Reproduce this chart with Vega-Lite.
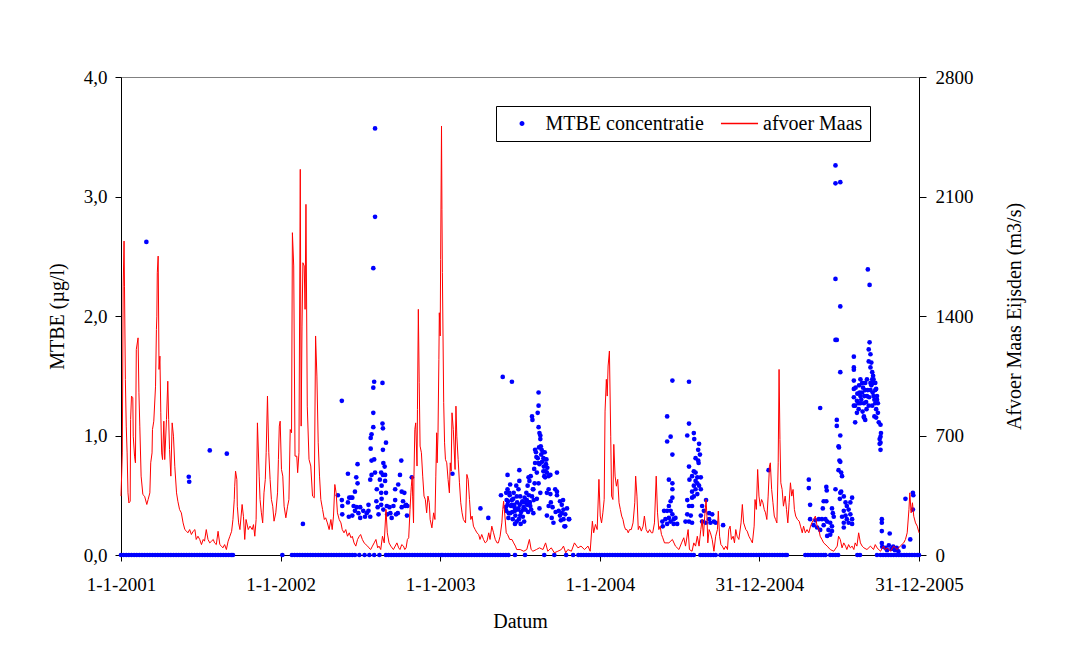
{
"$schema": "https://vega.github.io/schema/vega-lite/v6.json",
"width": 798,
"height": 478,
"autosize": {"type": "none"},
"padding": {"left": 121, "top": 77, "right": 153, "bottom": 111},
"background": "white",
"config": {
  "font": "Liberation Serif",
  "view": {"stroke": "#808080", "strokeWidth": 1},
  "axis": {"domainColor": "black", "tickColor": "black", "labelColor": "black", "titleColor": "black", "labelFont": "Liberation Serif", "titleFont": "Liberation Serif", "labelFontSize": 19, "titleFontSize": 20, "titleFontWeight": "normal", "grid": false, "tickSize": 6, "domainWidth": 1, "tickWidth": 1}
},
"datasets": {
"afvoer": [
{"dag":0,"afvoer":345},{"dag":3,"afvoer":598},{"dag":5,"afvoer":1575},{"dag":7,"afvoer":1839},{"dag":8,"afvoer":1575},{"dag":10,"afvoer":1028},{"dag":12,"afvoer":755},{"dag":14,"afvoer":598},{"dag":16,"afvoer":364},{"dag":18,"afvoer":305},{"dag":21,"afvoer":315},{"dag":22,"afvoer":794},{"dag":24,"afvoer":931},{"dag":27,"afvoer":921},{"dag":28,"afvoer":696},{"dag":31,"afvoer":579},{"dag":33,"afvoer":540},{"dag":35,"afvoer":1204},{"dag":39,"afvoer":1272},{"dag":41,"afvoer":950},{"dag":43,"afvoer":755},{"dag":46,"afvoer":462},{"dag":50,"afvoer":354},{"dag":54,"afvoer":344},{"dag":59,"afvoer":296},{"dag":62,"afvoer":325},{"dag":66,"afvoer":364},{"dag":68,"afvoer":540},{"dag":71,"afvoer":598},{"dag":72,"afvoer":735},{"dag":75,"afvoer":784},{"dag":79,"afvoer":989},{"dag":81,"afvoer":1321},{"dag":82,"afvoer":1399},{"dag":83,"afvoer":1653},{"dag":85,"afvoer":1751},{"dag":87,"afvoer":1087},{"dag":89,"afvoer":1165},{"dag":91,"afvoer":833},{"dag":93,"afvoer":598},{"dag":95,"afvoer":559},{"dag":98,"afvoer":784},{"dag":100,"afvoer":559},{"dag":104,"afvoer":794},{"dag":107,"afvoer":1018},{"dag":109,"afvoer":794},{"dag":111,"afvoer":618},{"dag":114,"afvoer":462},{"dag":117,"afvoer":774},{"dag":120,"afvoer":696},{"dag":123,"afvoer":520},{"dag":127,"afvoer":364},{"dag":130,"afvoer":315},{"dag":134,"afvoer":266},{"dag":138,"afvoer":247},{"dag":142,"afvoer":188},{"dag":146,"afvoer":149},{"dag":150,"afvoer":139},{"dag":153,"afvoer":130},{"dag":157,"afvoer":149},{"dag":161,"afvoer":120},{"dag":165,"afvoer":139},{"dag":169,"afvoer":149},{"dag":172,"afvoer":91},{"dag":176,"afvoer":110},{"dag":180,"afvoer":91},{"dag":184,"afvoer":61},{"dag":188,"afvoer":91},{"dag":191,"afvoer":81},{"dag":195,"afvoer":149},{"dag":199,"afvoer":91},{"dag":203,"afvoer":71},{"dag":207,"afvoer":81},{"dag":211,"afvoer":91},{"dag":214,"afvoer":71},{"dag":218,"afvoer":61},{"dag":222,"afvoer":139},{"dag":226,"afvoer":61},{"dag":230,"afvoer":51},{"dag":233,"afvoer":42},{"dag":237,"afvoer":61},{"dag":241,"afvoer":32},{"dag":245,"afvoer":81},{"dag":249,"afvoer":110},{"dag":253,"afvoer":139},{"dag":256,"afvoer":208},{"dag":259,"afvoer":325},{"dag":260,"afvoer":403},{"dag":262,"afvoer":491},{"dag":265,"afvoer":442},{"dag":266,"afvoer":286},{"dag":269,"afvoer":188},{"dag":272,"afvoer":149},{"dag":277,"afvoer":296},{"dag":280,"afvoer":227},{"dag":283,"afvoer":91},{"dag":286,"afvoer":208},{"dag":291,"afvoer":149},{"dag":295,"afvoer":169},{"dag":300,"afvoer":149},{"dag":303,"afvoer":178},{"dag":306,"afvoer":110},{"dag":309,"afvoer":208},{"dag":312,"afvoer":774},
{"dag":316,"afvoer":462},{"dag":318,"afvoer":325},{"dag":321,"afvoer":247},{"dag":324,"afvoer":188},{"dag":327,"afvoer":364},{"dag":330,"afvoer":442},{"dag":332,"afvoer":599},{"dag":335,"afvoer":931},{"dag":338,"afvoer":599},{"dag":341,"afvoer":442},{"dag":344,"afvoer":325},{"dag":347,"afvoer":286},{"dag":350,"afvoer":198},{"dag":354,"afvoer":247},{"dag":358,"afvoer":364},{"dag":360,"afvoer":560},{"dag":362,"afvoer":755},{"dag":364,"afvoer":784},{"dag":367,"afvoer":501},{"dag":370,"afvoer":462},{"dag":373,"afvoer":286},{"dag":377,"afvoer":218},{"dag":381,"afvoer":286},{"dag":384,"afvoer":325},{"dag":387,"afvoer":735},{"dag":390,"afvoer":716},{"dag":392,"afvoer":1888},{"dag":395,"afvoer":1693},{"dag":398,"afvoer":579},{"dag":402,"afvoer":579},{"dag":404,"afvoer":482},{"dag":407,"afvoer":599},{"dag":410,"afvoer":2259},{"dag":412,"afvoer":755},{"dag":414,"afvoer":1341},{"dag":416,"afvoer":1712},{"dag":419,"afvoer":1693},{"dag":421,"afvoer":1439},{"dag":423,"afvoer":2054},{"dag":426,"afvoer":872},{"dag":430,"afvoer":560},{"dag":434,"afvoer":521},{"dag":438,"afvoer":345},{"dag":442,"afvoer":335},{"dag":445,"afvoer":1283},{"dag":448,"afvoer":1048},{"dag":451,"afvoer":657},{"dag":454,"afvoer":462},{"dag":457,"afvoer":325},{"dag":461,"afvoer":267},{"dag":465,"afvoer":208},{"dag":468,"afvoer":218},{"dag":472,"afvoer":188},{"dag":476,"afvoer":149},{"dag":480,"afvoer":208},{"dag":483,"afvoer":149},{"dag":486,"afvoer":228},{"dag":489,"afvoer":413},{"dag":492,"afvoer":364},{"dag":495,"afvoer":247},{"dag":499,"afvoer":208},{"dag":503,"afvoer":188},{"dag":506,"afvoer":149},{"dag":510,"afvoer":130},{"dag":514,"afvoer":149},{"dag":518,"afvoer":110},{"dag":522,"afvoer":130},{"dag":526,"afvoer":101},{"dag":529,"afvoer":110},{"dag":533,"afvoer":71},{"dag":537,"afvoer":52},{"dag":541,"afvoer":91},{"dag":545,"afvoer":110},{"dag":548,"afvoer":120},{"dag":552,"afvoer":91},{"dag":556,"afvoer":71},{"dag":560,"afvoer":61},{"dag":564,"afvoer":52},{"dag":567,"afvoer":42},{"dag":571,"afvoer":32},{"dag":575,"afvoer":52},{"dag":579,"afvoer":71},{"dag":583,"afvoer":91},{"dag":587,"afvoer":42},{"dag":590,"afvoer":52},{"dag":594,"afvoer":32},{"dag":598,"afvoer":110},{"dag":602,"afvoer":71},{"dag":606,"afvoer":267},{"dag":609,"afvoer":130},{"dag":613,"afvoer":71},{"dag":617,"afvoer":52},
{"dag":623,"afvoer":32},{"dag":631,"afvoer":71},{"dag":635,"afvoer":42},{"dag":638,"afvoer":32},{"dag":642,"afvoer":61},{"dag":646,"afvoer":52},{"dag":649,"afvoer":32},{"dag":652,"afvoer":42},{"dag":655,"afvoer":91},{"dag":658,"afvoer":101},{"dag":661,"afvoer":266},{"dag":663,"afvoer":364},{"dag":664,"afvoer":403},{"dag":666,"afvoer":462},{"dag":667,"afvoer":345},{"dag":669,"afvoer":188},{"dag":670,"afvoer":462},{"dag":672,"afvoer":735},{"dag":674,"afvoer":774},{"dag":677,"afvoer":521},{"dag":678,"afvoer":853},{"dag":680,"afvoer":1439},{"dag":682,"afvoer":1009},{"dag":684,"afvoer":638},{"dag":687,"afvoer":599},{"dag":690,"afvoer":462},{"dag":693,"afvoer":345},{"dag":696,"afvoer":325},{"dag":699,"afvoer":247},{"dag":702,"afvoer":345},{"dag":705,"afvoer":306},{"dag":707,"afvoer":208},{"dag":711,"afvoer":159},{"dag":715,"afvoer":247},{"dag":718,"afvoer":208},{"dag":720,"afvoer":462},{"dag":722,"afvoer":716},{"dag":723,"afvoer":540},{"dag":725,"afvoer":716},{"dag":727,"afvoer":1146},{"dag":728,"afvoer":1419},{"dag":730,"afvoer":1283},{"dag":731,"afvoer":1732},{"dag":733,"afvoer":2513},{"dag":734,"afvoer":2025},{"dag":735,"afvoer":1654},{"dag":738,"afvoer":892},{"dag":740,"afvoer":657},{"dag":742,"afvoer":560},{"dag":745,"afvoer":540},{"dag":748,"afvoer":442},{"dag":751,"afvoer":364},{"dag":753,"afvoer":540},{"dag":755,"afvoer":491},{"dag":757,"afvoer":833},{"dag":760,"afvoer":735},{"dag":764,"afvoer":501},{"dag":766,"afvoer":872},{"dag":768,"afvoer":696},{"dag":771,"afvoer":560},{"dag":774,"afvoer":423},{"dag":777,"afvoer":306},{"dag":780,"afvoer":247},{"dag":783,"afvoer":208},{"dag":788,"afvoer":188},{"dag":791,"afvoer":472},{"dag":794,"afvoer":442},{"dag":797,"afvoer":325},{"dag":800,"afvoer":208},{"dag":803,"afvoer":228},{"dag":806,"afvoer":169},{"dag":810,"afvoer":149},{"dag":814,"afvoer":130},{"dag":818,"afvoer":120},{"dag":821,"afvoer":91},{"dag":825,"afvoer":120},{"dag":829,"afvoer":91},{"dag":833,"afvoer":71},{"dag":837,"afvoer":81},{"dag":841,"afvoer":130},{"dag":844,"afvoer":91},{"dag":848,"afvoer":169},{"dag":852,"afvoer":130},{"dag":856,"afvoer":91},{"dag":860,"afvoer":71},{"dag":863,"afvoer":71},{"dag":867,"afvoer":110},{"dag":871,"afvoer":188},{"dag":873,"afvoer":266},{"dag":875,"afvoer":315},{"dag":878,"afvoer":228},{"dag":881,"afvoer":130},{"dag":884,"afvoer":120},{"dag":889,"afvoer":91},{"dag":894,"afvoer":91},{"dag":898,"afvoer":71},{"dag":902,"afvoer":52},{"dag":905,"afvoer":32},{"dag":913,"afvoer":32},{"dag":921,"afvoer":22},{"dag":928,"afvoer":32},
{"dag":934,"afvoer":91},{"dag":938,"afvoer":32},{"dag":942,"afvoer":22},{"dag":950,"afvoer":32},{"dag":957,"afvoer":42},{"dag":965,"afvoer":32},{"dag":971,"afvoer":71},{"dag":976,"afvoer":22},{"dag":984,"afvoer":42},{"dag":991,"afvoer":13},{"dag":999,"afvoer":22},{"dag":1007,"afvoer":32},{"dag":1012,"afvoer":52},{"dag":1017,"afvoer":13},{"dag":1022,"afvoer":32},{"dag":1030,"afvoer":22},{"dag":1037,"afvoer":71},{"dag":1045,"afvoer":42},{"dag":1052,"afvoer":52},{"dag":1060,"afvoer":32},{"dag":1068,"afvoer":52},{"dag":1073,"afvoer":22},{"dag":1078,"afvoer":198},{"dag":1081,"afvoer":130},{"dag":1085,"afvoer":179},{"dag":1089,"afvoer":149},{"dag":1093,"afvoer":443},{"dag":1096,"afvoer":228},{"dag":1099,"afvoer":188},{"dag":1102,"afvoer":247},{"dag":1105,"afvoer":325},{"dag":1107,"afvoer":843},{"dag":1110,"afvoer":1029},{"dag":1112,"afvoer":931},{"dag":1114,"afvoer":1107},{"dag":1117,"afvoer":1195},{"dag":1120,"afvoer":696},{"dag":1122,"afvoer":345},{"dag":1125,"afvoer":325},{"dag":1127,"afvoer":648},{"dag":1130,"afvoer":462},{"dag":1133,"afvoer":403},{"dag":1136,"afvoer":443},{"dag":1139,"afvoer":306},{"dag":1142,"afvoer":267},{"dag":1145,"afvoer":228},{"dag":1148,"afvoer":208},{"dag":1151,"afvoer":169},{"dag":1154,"afvoer":149},{"dag":1157,"afvoer":149},{"dag":1160,"afvoer":130},{"dag":1163,"afvoer":149},{"dag":1167,"afvoer":149},{"dag":1171,"afvoer":188},{"dag":1175,"afvoer":306},{"dag":1177,"afvoer":462},{"dag":1180,"afvoer":345},{"dag":1183,"afvoer":149},{"dag":1186,"afvoer":169},{"dag":1190,"afvoer":140},{"dag":1194,"afvoer":169},{"dag":1197,"afvoer":228},{"dag":1201,"afvoer":149},{"dag":1205,"afvoer":130},{"dag":1209,"afvoer":149},{"dag":1213,"afvoer":130},{"dag":1216,"afvoer":130},{"dag":1220,"afvoer":188},{"dag":1224,"afvoer":462},{"dag":1227,"afvoer":247},{"dag":1230,"afvoer":149},{"dag":1233,"afvoer":169},{"dag":1236,"afvoer":120},{"dag":1239,"afvoer":101},{"dag":1243,"afvoer":71},
{"dag":1253,"afvoer":71},{"dag":1261,"afvoer":91},{"dag":1268,"afvoer":52},{"dag":1276,"afvoer":32},{"dag":1282,"afvoer":71},{"dag":1287,"afvoer":101},{"dag":1291,"afvoer":52},{"dag":1297,"afvoer":149},{"dag":1300,"afvoer":32},{"dag":1306,"afvoer":22},{"dag":1310,"afvoer":71},{"dag":1314,"afvoer":52},{"dag":1318,"afvoer":110},{"dag":1322,"afvoer":52},{"dag":1326,"afvoer":149},{"dag":1329,"afvoer":208},{"dag":1332,"afvoer":110},{"dag":1335,"afvoer":228},{"dag":1338,"afvoer":325},{"dag":1340,"afvoer":228},{"dag":1342,"afvoer":71},{"dag":1345,"afvoer":149},{"dag":1348,"afvoer":130},{"dag":1352,"afvoer":91},{"dag":1356,"afvoer":22},{"dag":1360,"afvoer":110},{"dag":1364,"afvoer":149},{"dag":1366,"afvoer":257},{"dag":1369,"afvoer":110},{"dag":1372,"afvoer":61},{"dag":1375,"afvoer":52},{"dag":1379,"afvoer":32},{"dag":1383,"afvoer":52},{"dag":1387,"afvoer":32},{"dag":1390,"afvoer":149},{"dag":1393,"afvoer":169},{"dag":1396,"afvoer":91},{"dag":1400,"afvoer":110},{"dag":1403,"afvoer":71},{"dag":1406,"afvoer":149},{"dag":1409,"afvoer":110},{"dag":1413,"afvoer":91},{"dag":1418,"afvoer":188},{"dag":1421,"afvoer":296},{"dag":1424,"afvoer":188},{"dag":1429,"afvoer":149},{"dag":1432,"afvoer":140},{"dag":1436,"afvoer":110},{"dag":1440,"afvoer":91},{"dag":1444,"afvoer":71},{"dag":1448,"afvoer":169},{"dag":1450,"afvoer":325},{"dag":1453,"afvoer":267},{"dag":1456,"afvoer":501},{"dag":1459,"afvoer":345},{"dag":1462,"afvoer":286},{"dag":1465,"afvoer":325},{"dag":1468,"afvoer":306},{"dag":1471,"afvoer":267},{"dag":1474,"afvoer":247},{"dag":1477,"afvoer":208},{"dag":1480,"afvoer":345},{"dag":1483,"afvoer":521},{"dag":1485,"afvoer":540},{"dag":1488,"afvoer":384},{"dag":1491,"afvoer":306},{"dag":1494,"afvoer":228},{"dag":1497,"afvoer":208},{"dag":1500,"afvoer":188},{"dag":1503,"afvoer":540},{"dag":1505,"afvoer":1087},{"dag":1507,"afvoer":677},{"dag":1509,"afvoer":423},{"dag":1512,"afvoer":384},{"dag":1515,"afvoer":286},{"dag":1519,"afvoer":345},{"dag":1522,"afvoer":267},{"dag":1525,"afvoer":188},{"dag":1528,"afvoer":306},{"dag":1531,"afvoer":423},{"dag":1534,"afvoer":345},{"dag":1537,"afvoer":384},{"dag":1540,"afvoer":267},{"dag":1543,"afvoer":228},{"dag":1547,"afvoer":208},{"dag":1551,"afvoer":198},{"dag":1554,"afvoer":169},{"dag":1558,"afvoer":130},
{"dag":1561,"afvoer":169},{"dag":1565,"afvoer":130},{"dag":1569,"afvoer":149},{"dag":1573,"afvoer":130},{"dag":1577,"afvoer":169},{"dag":1580,"afvoer":188},{"dag":1584,"afvoer":208},{"dag":1588,"afvoer":228},{"dag":1592,"afvoer":169},{"dag":1596,"afvoer":149},{"dag":1599,"afvoer":110},{"dag":1603,"afvoer":91},{"dag":1607,"afvoer":71},{"dag":1615,"afvoer":52},{"dag":1622,"afvoer":32},{"dag":1630,"afvoer":22},{"dag":1638,"afvoer":52},{"dag":1641,"afvoer":110},{"dag":1645,"afvoer":91},{"dag":1649,"afvoer":42},{"dag":1653,"afvoer":71},{"dag":1657,"afvoer":52},{"dag":1660,"afvoer":32},{"dag":1664,"afvoer":61},{"dag":1668,"afvoer":42},{"dag":1672,"afvoer":52},{"dag":1676,"afvoer":32},{"dag":1679,"afvoer":71},{"dag":1683,"afvoer":52},{"dag":1687,"afvoer":130},{"dag":1691,"afvoer":71},{"dag":1695,"afvoer":52},{"dag":1699,"afvoer":42},{"dag":1706,"afvoer":32},{"dag":1714,"afvoer":52},{"dag":1721,"afvoer":32},{"dag":1725,"afvoer":61},{"dag":1729,"afvoer":42},{"dag":1737,"afvoer":22},{"dag":1744,"afvoer":52},{"dag":1748,"afvoer":32},{"dag":1752,"afvoer":42},{"dag":1760,"afvoer":22},{"dag":1767,"afvoer":52},{"dag":1775,"afvoer":32},{"dag":1782,"afvoer":52},{"dag":1790,"afvoer":71},{"dag":1794,"afvoer":91},{"dag":1798,"afvoer":130},{"dag":1802,"afvoer":267},{"dag":1804,"afvoer":364},{"dag":1807,"afvoer":247},{"dag":1810,"afvoer":306},{"dag":1813,"afvoer":227},{"dag":1817,"afvoer":188},{"dag":1821,"afvoer":169},{"dag":1824,"afvoer":140},{"dag":1825,"afvoer":130}
],
"mtbe": [
{"dag":0,"mtbe":0},{"dag":6,"mtbe":0},{"dag":12,"mtbe":0},{"dag":18,"mtbe":0},{"dag":24,"mtbe":0},{"dag":30,"mtbe":0},{"dag":36,"mtbe":0},{"dag":42,"mtbe":0},{"dag":48,"mtbe":0},{"dag":54,"mtbe":0},{"dag":60,"mtbe":0},{"dag":66,"mtbe":0},{"dag":72,"mtbe":0},{"dag":78,"mtbe":0},{"dag":84,"mtbe":0},{"dag":90,"mtbe":0},{"dag":96,"mtbe":0},{"dag":102,"mtbe":0},{"dag":108,"mtbe":0},{"dag":114,"mtbe":0},{"dag":120,"mtbe":0},{"dag":126,"mtbe":0},{"dag":132,"mtbe":0},{"dag":138,"mtbe":0},{"dag":144,"mtbe":0},{"dag":150,"mtbe":0},{"dag":156,"mtbe":0},{"dag":162,"mtbe":0},{"dag":168,"mtbe":0},{"dag":174,"mtbe":0},{"dag":180,"mtbe":0},{"dag":186,"mtbe":0},{"dag":192,"mtbe":0},{"dag":198,"mtbe":0},{"dag":204,"mtbe":0},{"dag":210,"mtbe":0},{"dag":216,"mtbe":0},{"dag":222,"mtbe":0},{"dag":228,"mtbe":0},{"dag":234,"mtbe":0},{"dag":240,"mtbe":0},{"dag":246,"mtbe":0},{"dag":252,"mtbe":0},{"dag":256,"mtbe":0},
{"dag":369,"mtbe":0},
{"dag":391,"mtbe":0},{"dag":397,"mtbe":0},{"dag":403,"mtbe":0},{"dag":409,"mtbe":0},{"dag":415,"mtbe":0},{"dag":421,"mtbe":0},{"dag":427,"mtbe":0},{"dag":433,"mtbe":0},{"dag":439,"mtbe":0},{"dag":445,"mtbe":0},{"dag":451,"mtbe":0},{"dag":457,"mtbe":0},{"dag":463,"mtbe":0},{"dag":469,"mtbe":0},{"dag":475,"mtbe":0},{"dag":481,"mtbe":0},{"dag":487,"mtbe":0},{"dag":493,"mtbe":0},{"dag":499,"mtbe":0},{"dag":505,"mtbe":0},{"dag":511,"mtbe":0},{"dag":517,"mtbe":0},{"dag":523,"mtbe":0},{"dag":529,"mtbe":0},{"dag":535,"mtbe":0},
{"dag":545,"mtbe":0},{"dag":557,"mtbe":0},{"dag":568,"mtbe":0},{"dag":579,"mtbe":0},{"dag":591,"mtbe":0},
{"dag":606,"mtbe":0},{"dag":612,"mtbe":0},{"dag":618,"mtbe":0},{"dag":624,"mtbe":0},{"dag":630,"mtbe":0},{"dag":636,"mtbe":0},{"dag":642,"mtbe":0},{"dag":648,"mtbe":0},{"dag":654,"mtbe":0},{"dag":660,"mtbe":0},{"dag":666,"mtbe":0},{"dag":672,"mtbe":0},{"dag":678,"mtbe":0},{"dag":684,"mtbe":0},{"dag":690,"mtbe":0},{"dag":696,"mtbe":0},{"dag":702,"mtbe":0},{"dag":708,"mtbe":0},{"dag":714,"mtbe":0},{"dag":720,"mtbe":0},{"dag":726,"mtbe":0},{"dag":732,"mtbe":0},
{"dag":736,"mtbe":0},{"dag":742,"mtbe":0},{"dag":748,"mtbe":0},{"dag":754,"mtbe":0},{"dag":760,"mtbe":0},{"dag":766,"mtbe":0},{"dag":772,"mtbe":0},{"dag":778,"mtbe":0},{"dag":784,"mtbe":0},{"dag":790,"mtbe":0},{"dag":796,"mtbe":0},{"dag":802,"mtbe":0},{"dag":808,"mtbe":0},{"dag":814,"mtbe":0},{"dag":820,"mtbe":0},{"dag":826,"mtbe":0},{"dag":832,"mtbe":0},{"dag":838,"mtbe":0},{"dag":844,"mtbe":0},{"dag":850,"mtbe":0},{"dag":856,"mtbe":0},{"dag":862,"mtbe":0},{"dag":868,"mtbe":0},{"dag":874,"mtbe":0},{"dag":880,"mtbe":0},{"dag":886,"mtbe":0},
{"dag":901,"mtbe":0},{"dag":924,"mtbe":0},{"dag":968,"mtbe":0},{"dag":991,"mtbe":0},{"dag":1018,"mtbe":0},{"dag":1034,"mtbe":0},
{"dag":1046,"mtbe":0},{"dag":1052,"mtbe":0},{"dag":1058,"mtbe":0},{"dag":1064,"mtbe":0},{"dag":1070,"mtbe":0},{"dag":1076,"mtbe":0},{"dag":1082,"mtbe":0},{"dag":1088,"mtbe":0},{"dag":1094,"mtbe":0},{"dag":1100,"mtbe":0},{"dag":1106,"mtbe":0},{"dag":1112,"mtbe":0},{"dag":1118,"mtbe":0},{"dag":1124,"mtbe":0},{"dag":1130,"mtbe":0},{"dag":1136,"mtbe":0},{"dag":1142,"mtbe":0},{"dag":1148,"mtbe":0},{"dag":1154,"mtbe":0},{"dag":1160,"mtbe":0},{"dag":1166,"mtbe":0},{"dag":1172,"mtbe":0},{"dag":1178,"mtbe":0},{"dag":1184,"mtbe":0},{"dag":1190,"mtbe":0},{"dag":1196,"mtbe":0},{"dag":1202,"mtbe":0},{"dag":1208,"mtbe":0},{"dag":1214,"mtbe":0},{"dag":1220,"mtbe":0},{"dag":1226,"mtbe":0},{"dag":1232,"mtbe":0},{"dag":1238,"mtbe":0},{"dag":1244,"mtbe":0},{"dag":1250,"mtbe":0},{"dag":1256,"mtbe":0},{"dag":1262,"mtbe":0},{"dag":1268,"mtbe":0},{"dag":1274,"mtbe":0},{"dag":1280,"mtbe":0},{"dag":1286,"mtbe":0},{"dag":1292,"mtbe":0},{"dag":1298,"mtbe":0},{"dag":1304,"mtbe":0},{"dag":1310,"mtbe":0},
{"dag":1325,"mtbe":0},{"dag":1331,"mtbe":0},{"dag":1337,"mtbe":0},{"dag":1343,"mtbe":0},{"dag":1349,"mtbe":0},{"dag":1355,"mtbe":0},{"dag":1360,"mtbe":0},
{"dag":1371,"mtbe":0},{"dag":1377,"mtbe":0},{"dag":1383,"mtbe":0},{"dag":1389,"mtbe":0},
{"dag":1393,"mtbe":0},{"dag":1399,"mtbe":0},{"dag":1405,"mtbe":0},{"dag":1411,"mtbe":0},{"dag":1417,"mtbe":0},{"dag":1423,"mtbe":0},{"dag":1429,"mtbe":0},{"dag":1435,"mtbe":0},{"dag":1441,"mtbe":0},{"dag":1447,"mtbe":0},{"dag":1453,"mtbe":0},{"dag":1459,"mtbe":0},{"dag":1465,"mtbe":0},{"dag":1471,"mtbe":0},{"dag":1477,"mtbe":0},{"dag":1483,"mtbe":0},{"dag":1489,"mtbe":0},{"dag":1495,"mtbe":0},{"dag":1501,"mtbe":0},{"dag":1507,"mtbe":0},{"dag":1513,"mtbe":0},{"dag":1519,"mtbe":0},{"dag":1523,"mtbe":0},
{"dag":1565,"mtbe":0},{"dag":1571,"mtbe":0},{"dag":1577,"mtbe":0},{"dag":1583,"mtbe":0},{"dag":1589,"mtbe":0},{"dag":1595,"mtbe":0},{"dag":1601,"mtbe":0},{"dag":1607,"mtbe":0},{"dag":1611,"mtbe":0},
{"dag":1622,"mtbe":0},{"dag":1628,"mtbe":0},{"dag":1634,"mtbe":0},{"dag":1640,"mtbe":0},
{"dag":1684,"mtbe":0},{"dag":1690,"mtbe":0},{"dag":1729,"mtbe":0},
{"dag":1737,"mtbe":0},{"dag":1743,"mtbe":0},{"dag":1749,"mtbe":0},{"dag":1755,"mtbe":0},{"dag":1761,"mtbe":0},{"dag":1767,"mtbe":0},{"dag":1773,"mtbe":0},{"dag":1779,"mtbe":0},{"dag":1785,"mtbe":0},{"dag":1791,"mtbe":0},{"dag":1797,"mtbe":0},{"dag":1803,"mtbe":0},{"dag":1809,"mtbe":0},{"dag":1815,"mtbe":0},{"dag":1821,"mtbe":0},{"dag":1825,"mtbe":0},
{"dag":58,"mtbe":2.62},{"dag":155,"mtbe":0.655},{"dag":156,"mtbe":0.613},{"dag":203,"mtbe":0.875},{"dag":242,"mtbe":0.848},
{"dag":416,"mtbe":0.26},{"dag":496,"mtbe":0.50},{"dag":505,"mtbe":1.29},{"dag":505,"mtbe":0.46},{"dag":506,"mtbe":0.41},{"dag":506,"mtbe":0.34},{"dag":519,"mtbe":0.68},{"dag":519,"mtbe":0.44},{"dag":522,"mtbe":0.48},{"dag":521,"mtbe":0.32},{"dag":526,"mtbe":0.48},{"dag":529,"mtbe":0.48},{"dag":535,"mtbe":0.53},{"dag":538,"mtbe":0.65},{"dag":541,"mtbe":0.76},{"dag":541,"mtbe":0.60},{"dag":532,"mtbe":0.41},{"dag":535,"mtbe":0.37},{"dag":539,"mtbe":0.40},{"dag":529,"mtbe":0.33},{"dag":543,"mtbe":0.35},{"dag":547,"mtbe":0.40},{"dag":547,"mtbe":0.31},{"dag":554,"mtbe":0.37},{"dag":558,"mtbe":0.32},{"dag":562,"mtbe":0.35},{"dag":566,"mtbe":0.42},{"dag":566,"mtbe":0.37},{"dag":570,"mtbe":0.32},{"dag":570,"mtbe":0.63},{"dag":573,"mtbe":0.67},{"dag":573,"mtbe":0.79},{"dag":571,"mtbe":0.89},{"dag":571,"mtbe":0.98},{"dag":573,"mtbe":1.01},{"dag":577,"mtbe":1.07},{"dag":577,"mtbe":1.19},{"dag":577,"mtbe":1.40},{"dag":579,"mtbe":1.45},{"dag":577,"mtbe":2.40},{"dag":581,"mtbe":2.83},{"dag":581,"mtbe":3.57},{"dag":579,"mtbe":0.80},{"dag":581,"mtbe":0.69},{"dag":585,"mtbe":0.55},{"dag":584,"mtbe":0.45},{"dag":587,"mtbe":0.40},{"dag":589,"mtbe":0.34},{"dag":592,"mtbe":0.63},{"dag":595,"mtbe":0.69},{"dag":596,"mtbe":0.58},{"dag":595,"mtbe":0.52},{"dag":596,"mtbe":0.47},{"dag":598,"mtbe":1.44},{"dag":598,"mtbe":1.10},{"dag":599,"mtbe":1.06},{"dag":606,"mtbe":0.94},{"dag":599,"mtbe":0.88},{"dag":600,"mtbe":0.77},{"dag":603,"mtbe":0.74},{"dag":599,"mtbe":0.67},{"dag":604,"mtbe":0.67},{"dag":604,"mtbe":0.62},{"dag":595,"mtbe":0.42},{"dag":600,"mtbe":0.38},{"dag":606,"mtbe":0.52},{"dag":608,"mtbe":0.41},{"dag":609,"mtbe":0.34},{"dag":614,"mtbe":0.40},{"dag":616,"mtbe":0.35},{"dag":619,"mtbe":0.31},{"dag":623,"mtbe":0.41},{"dag":627,"mtbe":0.46},{"dag":627,"mtbe":0.55},{"dag":629,"mtbe":0.34},{"dag":633,"mtbe":0.35},{"dag":634,"mtbe":0.59},{"dag":638,"mtbe":0.67},{"dag":641,"mtbe":0.79},{"dag":642,"mtbe":0.53},{"dag":645,"mtbe":0.45},{"dag":642,"mtbe":0.40},{"dag":648,"mtbe":0.52},{"dag":650,"mtbe":0.41},{"dag":652,"mtbe":0.42},{"dag":654,"mtbe":0.33},{"dag":655,"mtbe":0.41},{"dag":665,"mtbe":0.65},
{"dag":758,"mtbe":0.68},{"dag":822,"mtbe":0.39},{"dag":840,"mtbe":0.31},{"dag":869,"mtbe":0.50},{"dag":873,"mtbe":1.49},{"dag":894,"mtbe":1.45},
{"dag":884,"mtbe":0.67},{"dag":890,"mtbe":0.59},{"dag":884,"mtbe":0.55},{"dag":881,"mtbe":0.52},{"dag":888,"mtbe":0.52},{"dag":882,"mtbe":0.46},{"dag":894,"mtbe":0.46},{"dag":884,"mtbe":0.42},{"dag":892,"mtbe":0.41},{"dag":899,"mtbe":0.42},{"dag":881,"mtbe":0.37},{"dag":890,"mtbe":0.35},{"dag":901,"mtbe":0.37},{"dag":886,"mtbe":0.31},{"dag":896,"mtbe":0.30},{"dag":905,"mtbe":0.28},{"dag":911,"mtbe":0.71},{"dag":911,"mtbe":0.62},{"dag":909,"mtbe":0.55},{"dag":913,"mtbe":0.49},{"dag":905,"mtbe":0.49},{"dag":917,"mtbe":0.44},{"dag":909,"mtbe":0.39},{"dag":920,"mtbe":0.38},{"dag":913,"mtbe":0.33},{"dag":922,"mtbe":0.28},{"dag":914,"mtbe":0.26},{"dag":901,"mtbe":0.26},{"dag":898,"mtbe":0.52},{"dag":904,"mtbe":0.58},{"dag":924,"mtbe":0.44},{"dag":927,"mtbe":0.52},{"dag":930,"mtbe":0.58},{"dag":932,"mtbe":0.65},{"dag":934,"mtbe":0.62},{"dag":937,"mtbe":0.66},{"dag":928,"mtbe":0.46},{"dag":934,"mtbe":0.44},{"dag":940,"mtbe":0.49},{"dag":943,"mtbe":0.55},{"dag":940,"mtbe":1.16},{"dag":941,"mtbe":1.13},{"dag":943,"mtbe":0.35},{"dag":947,"mtbe":0.77},{"dag":945,"mtbe":0.72},{"dag":936,"mtbe":0.41},{"dag":955,"mtbe":1.36},{"dag":955,"mtbe":1.25},{"dag":953,"mtbe":1.19},{"dag":955,"mtbe":1.07},{"dag":957,"mtbe":1.02},{"dag":959,"mtbe":1.00},{"dag":959,"mtbe":0.97},{"dag":960,"mtbe":0.91},{"dag":947,"mtbe":0.88},{"dag":949,"mtbe":0.86},{"dag":953,"mtbe":0.81},{"dag":955,"mtbe":0.77},{"dag":957,"mtbe":0.76},{"dag":951,"mtbe":0.69},{"dag":955,"mtbe":0.60},{"dag":959,"mtbe":0.52},{"dag":951,"mtbe":0.47},{"dag":957,"mtbe":0.39},{"dag":962,"mtbe":0.88},{"dag":966,"mtbe":0.81},{"dag":970,"mtbe":0.80},{"dag":972,"mtbe":0.76},{"dag":966,"mtbe":0.70},{"dag":968,"mtbe":0.66},{"dag":970,"mtbe":0.65},{"dag":974,"mtbe":0.69},{"dag":978,"mtbe":0.66},{"dag":982,"mtbe":0.67},{"dag":965,"mtbe":0.86},{"dag":975,"mtbe":0.73},{"dag":978,"mtbe":0.55},{"dag":974,"mtbe":0.52},{"dag":982,"mtbe":0.51},{"dag":978,"mtbe":0.41},{"dag":974,"mtbe":0.33},{"dag":985,"mtbe":0.31},{"dag":983,"mtbe":0.44},{"dag":997,"mtbe":0.69},{"dag":993,"mtbe":0.55},{"dag":997,"mtbe":0.53},{"dag":997,"mtbe":0.50},{"dag":989,"mtbe":0.27},{"dag":1004,"mtbe":0.45},{"dag":1008,"mtbe":0.42},{"dag":1012,"mtbe":0.38},{"dag":1008,"mtbe":0.35},{"dag":1016,"mtbe":0.34},{"dag":1004,"mtbe":0.33},{"dag":1012,"mtbe":0.30},{"dag":1025,"mtbe":0.30},{"dag":1016,"mtbe":0.24},{"dag":1001,"mtbe":0.37},{"dag":1020,"mtbe":0.39},{"dag":1011,"mtbe":0.46},
{"dag":880,"mtbe":0.40},{"dag":885,"mtbe":0.45},{"dag":887,"mtbe":0.35},{"dag":889,"mtbe":0.50},{"dag":893,"mtbe":0.42},{"dag":895,"mtbe":0.36},{"dag":897,"mtbe":0.47},{"dag":900,"mtbe":0.40},{"dag":902,"mtbe":0.33},{"dag":906,"mtbe":0.44},{"dag":908,"mtbe":0.38},{"dag":910,"mtbe":0.30},{"dag":912,"mtbe":0.42},{"dag":915,"mtbe":0.36},{"dag":918,"mtbe":0.45},{"dag":919,"mtbe":0.32},{"dag":921,"mtbe":0.40},{"dag":923,"mtbe":0.48},{"dag":925,"mtbe":0.38},{"dag":950,"mtbe":0.82},{"dag":956,"mtbe":0.90},{"dag":961,"mtbe":0.84},{"dag":963,"mtbe":0.78},{"dag":967,"mtbe":0.74},{"dag":969,"mtbe":0.86},{"dag":971,"mtbe":0.70},{"dag":973,"mtbe":0.80},{"dag":929,"mtbe":0.42},{"dag":931,"mtbe":0.36},{"dag":933,"mtbe":0.50},{"dag":935,"mtbe":0.44},{"dag":938,"mtbe":0.38},{"dag":942,"mtbe":0.55},{"dag":944,"mtbe":0.46},{"dag":946,"mtbe":0.60},{"dag":1014,"mtbe":0.24},{"dag":1024,"mtbe":0.30},{"dag":1006,"mtbe":0.29},{"dag":994,"mtbe":0.36},{"dag":987,"mtbe":0.40},
{"dag":1261,"mtbe":1.46},{"dag":1299,"mtbe":1.45},{"dag":1249,"mtbe":1.16},{"dag":1249,"mtbe":0.95},{"dag":1257,"mtbe":0.99},{"dag":1261,"mtbe":0.84},{"dag":1253,"mtbe":0.63},{"dag":1261,"mtbe":0.60},{"dag":1261,"mtbe":0.55},{"dag":1261,"mtbe":0.48},{"dag":1257,"mtbe":0.45},{"dag":1253,"mtbe":0.41},{"dag":1249,"mtbe":0.37},{"dag":1257,"mtbe":0.37},{"dag":1261,"mtbe":0.34},{"dag":1242,"mtbe":0.37},{"dag":1245,"mtbe":0.30},{"dag":1253,"mtbe":0.31},{"dag":1264,"mtbe":0.30},{"dag":1268,"mtbe":0.31},{"dag":1249,"mtbe":0.26},{"dag":1257,"mtbe":0.28},{"dag":1264,"mtbe":0.26},{"dag":1272,"mtbe":0.26},{"dag":1238,"mtbe":0.28},{"dag":1239,"mtbe":0.24},{"dag":1295,"mtbe":1.00},{"dag":1299,"mtbe":1.10},{"dag":1310,"mtbe":1.02},{"dag":1311,"mtbe":0.97},{"dag":1322,"mtbe":0.93},{"dag":1320,"mtbe":0.88},{"dag":1324,"mtbe":0.84},{"dag":1314,"mtbe":0.81},{"dag":1320,"mtbe":0.79},{"dag":1321,"mtbe":0.77},{"dag":1299,"mtbe":0.74},{"dag":1310,"mtbe":0.70},{"dag":1314,"mtbe":0.69},{"dag":1306,"mtbe":0.66},{"dag":1318,"mtbe":0.65},{"dag":1326,"mtbe":0.65},{"dag":1300,"mtbe":0.63},{"dag":1314,"mtbe":0.62},{"dag":1318,"mtbe":0.60},{"dag":1310,"mtbe":0.58},{"dag":1322,"mtbe":0.58},{"dag":1314,"mtbe":0.55},{"dag":1326,"mtbe":0.55},{"dag":1306,"mtbe":0.53},{"dag":1318,"mtbe":0.51},{"dag":1310,"mtbe":0.49},{"dag":1306,"mtbe":0.48},{"dag":1295,"mtbe":0.46},{"dag":1338,"mtbe":0.46},{"dag":1299,"mtbe":0.41},{"dag":1306,"mtbe":0.41},{"dag":1329,"mtbe":0.41},{"dag":1295,"mtbe":0.34},{"dag":1303,"mtbe":0.33},{"dag":1299,"mtbe":0.28},{"dag":1291,"mtbe":0.28},{"dag":1306,"mtbe":0.27},{"dag":1326,"mtbe":0.33},{"dag":1333,"mtbe":0.37},{"dag":1345,"mtbe":0.35},{"dag":1352,"mtbe":0.34},{"dag":1329,"mtbe":0.28},{"dag":1337,"mtbe":0.27},{"dag":1345,"mtbe":0.30},{"dag":1348,"mtbe":0.27},{"dag":1356,"mtbe":0.28},{"dag":1360,"mtbe":0.27},{"dag":1377,"mtbe":0.25},
{"dag":1481,"mtbe":0.71},
{"dag":1634,"mtbe":3.26},{"dag":1634,"mtbe":3.11},{"dag":1645,"mtbe":3.12},{"dag":1634,"mtbe":2.31},{"dag":1645,"mtbe":2.08},{"dag":1634,"mtbe":1.80},{"dag":1637,"mtbe":1.80},{"dag":1645,"mtbe":1.53},{"dag":1599,"mtbe":1.23},{"dag":1637,"mtbe":1.13},{"dag":1637,"mtbe":1.08},{"dag":1645,"mtbe":1.00},{"dag":1641,"mtbe":0.91},{"dag":1642,"mtbe":0.90},{"dag":1643,"mtbe":0.79},{"dag":1645,"mtbe":0.78},{"dag":1641,"mtbe":0.71},{"dag":1647,"mtbe":0.69},{"dag":1649,"mtbe":0.66},{"dag":1634,"mtbe":0.55},{"dag":1645,"mtbe":0.52},{"dag":1647,"mtbe":0.53},{"dag":1644,"mtbe":0.47},{"dag":1573,"mtbe":0.63},{"dag":1573,"mtbe":0.56},{"dag":1576,"mtbe":0.42},{"dag":1576,"mtbe":0.30},{"dag":1607,"mtbe":0.45},{"dag":1613,"mtbe":0.45},{"dag":1613,"mtbe":0.57},{"dag":1614,"mtbe":0.54},{"dag":1605,"mtbe":0.39},{"dag":1626,"mtbe":0.39},{"dag":1588,"mtbe":0.29},{"dag":1596,"mtbe":0.30},{"dag":1603,"mtbe":0.30},{"dag":1611,"mtbe":0.30},{"dag":1615,"mtbe":0.28},{"dag":1584,"mtbe":0.25},{"dag":1607,"mtbe":0.25},{"dag":1622,"mtbe":0.27},{"dag":1592,"mtbe":0.23},{"dag":1599,"mtbe":0.21},{"dag":1618,"mtbe":0.21},{"dag":1626,"mtbe":0.20},{"dag":1615,"mtbe":0.16},{"dag":1622,"mtbe":0.17},{"dag":1628,"mtbe":0.35},{"dag":1630,"mtbe":0.32},{"dag":1626,"mtbe":0.24},{"dag":1653,"mtbe":0.49},{"dag":1657,"mtbe":0.44},{"dag":1660,"mtbe":0.41},{"dag":1668,"mtbe":0.44},{"dag":1672,"mtbe":0.48},{"dag":1664,"mtbe":0.38},{"dag":1653,"mtbe":0.37},{"dag":1649,"mtbe":0.32},{"dag":1657,"mtbe":0.33},{"dag":1668,"mtbe":0.34},{"dag":1660,"mtbe":0.30},{"dag":1672,"mtbe":0.30},{"dag":1653,"mtbe":0.27},{"dag":1664,"mtbe":0.27},{"dag":1672,"mtbe":0.26},{"dag":1653,"mtbe":0.23},
{"dag":1676,"mtbe":1.66},{"dag":1676,"mtbe":1.57},{"dag":1676,"mtbe":1.55},{"dag":1676,"mtbe":1.46},{"dag":1676,"mtbe":1.39},{"dag":1676,"mtbe":1.32},{"dag":1676,"mtbe":1.25},{"dag":1679,"mtbe":1.25},{"dag":1679,"mtbe":1.11},{"dag":1683,"mtbe":1.29},{"dag":1683,"mtbe":1.19},{"dag":1687,"mtbe":1.27},{"dag":1687,"mtbe":1.22},{"dag":1691,"mtbe":1.47},{"dag":1691,"mtbe":1.33},{"dag":1695,"mtbe":1.44},{"dag":1695,"mtbe":1.36},{"dag":1699,"mtbe":1.27},{"dag":1699,"mtbe":1.16},{"dag":1702,"mtbe":1.44},{"dag":1702,"mtbe":1.38},{"dag":1706,"mtbe":1.47},{"dag":1706,"mtbe":1.33},{"dag":1710,"mtbe":1.25},{"dag":1714,"mtbe":1.44},{"dag":1714,"mtbe":1.38},{"dag":1718,"mtbe":1.47},{"dag":1721,"mtbe":1.44},{"dag":1721,"mtbe":1.33},{"dag":1725,"mtbe":1.38},{"dag":1725,"mtbe":1.27},{"dag":1729,"mtbe":1.30},{"dag":1699,"mtbe":1.15},{"dag":1702,"mtbe":1.13},{"dag":1691,"mtbe":1.27},{"dag":1708,"mtbe":2.39},{"dag":1712,"mtbe":2.26},{"dag":1712,"mtbe":1.78},{"dag":1710,"mtbe":1.72},{"dag":1714,"mtbe":1.68},{"dag":1710,"mtbe":1.62},{"dag":1716,"mtbe":1.61},{"dag":1714,"mtbe":1.57},{"dag":1718,"mtbe":1.53},{"dag":1720,"mtbe":1.50},{"dag":1721,"mtbe":1.47},{"dag":1725,"mtbe":1.44},{"dag":1727,"mtbe":1.39},{"dag":1729,"mtbe":1.33},{"dag":1731,"mtbe":1.27},{"dag":1727,"mtbe":1.22},{"dag":1731,"mtbe":1.19},{"dag":1723,"mtbe":1.16},{"dag":1727,"mtbe":1.15},{"dag":1733,"mtbe":1.11},{"dag":1737,"mtbe":1.09},{"dag":1738,"mtbe":1.02},{"dag":1737,"mtbe":0.99},{"dag":1735,"mtbe":0.97},{"dag":1737,"mtbe":0.94},{"dag":1735,"mtbe":0.93},{"dag":1737,"mtbe":0.88},{"dag":1680,"mtbe":1.40},{"dag":1684,"mtbe":1.35},{"dag":1688,"mtbe":1.42},{"dag":1693,"mtbe":1.30},{"dag":1697,"mtbe":1.40},{"dag":1700,"mtbe":1.33},{"dag":1704,"mtbe":1.28},{"dag":1708,"mtbe":1.38},{"dag":1711,"mtbe":1.32},{"dag":1716,"mtbe":1.42},{"dag":1719,"mtbe":1.36},{"dag":1723,"mtbe":1.30},{"dag":1705,"mtbe":1.22},{"dag":1696,"mtbe":1.20},{"dag":1689,"mtbe":1.36},{"dag":1718,"mtbe":1.25},
{"dag":1740,"mtbe":0.30},{"dag":1740,"mtbe":0.27},{"dag":1740,"mtbe":0.20},{"dag":1740,"mtbe":0.10},{"dag":1741,"mtbe":0.07},{"dag":1758,"mtbe":0.18},{"dag":1748,"mtbe":0.06},{"dag":1752,"mtbe":0.04},{"dag":1756,"mtbe":0.08},{"dag":1762,"mtbe":0.05},{"dag":1766,"mtbe":0.07},{"dag":1770,"mtbe":0.04},{"dag":1774,"mtbe":0.06},{"dag":1778,"mtbe":0.03},{"dag":1790,"mtbe":0.07},{"dag":1794,"mtbe":0.47},{"dag":1805,"mtbe":0.13},{"dag":1811,"mtbe":0.38},{"dag":1811,"mtbe":0.52},{"dag":1812,"mtbe":0.50}
]
},
"layer": [
  {
    "data": {"name": "mtbe"},
    "mark": {"type": "point", "filled": true, "shape": "circle", "size": 22, "opacity": 1, "strokeWidth": 0},
    "encoding": {
      "x": {"field": "dag", "type": "quantitative", "scale": {"domain": [0, 1825], "nice": false, "zero": false},
        "axis": {"title": "Datum", "values": [0, 365, 730, 1095, 1460, 1825], "labelExpr": "timeFormat(datetime(2001, 0, 1 + datum.value), '%-d-%-m-%Y')", "labelFlush": false, "labelOverlap": false, "tickSize": 6, "labelPadding": 14, "titlePadding": 17}},
      "y": {"field": "mtbe", "type": "quantitative", "scale": {"domain": [0, 4], "nice": false},
        "axis": {"title": "MTBE (µg/l)", "values": [0, 1, 2, 3, 4], "labelExpr": "replace(format(datum.value, '.1f'), '.', ',')", "tickSize": 6, "labelPadding": 8, "titlePadding": 16}},
      "color": {"datum": "MTBE concentratie", "type": "nominal",
        "scale": {"domain": ["MTBE concentratie", "afvoer Maas"], "range": ["#0000ff", "#ff0000"]},
        "legend": {"title": null, "orient": "none", "legendX": 375, "legendY": 29, "direction": "horizontal",
          "strokeColor": "black", "fillColor": "white", "padding": 7.5,
          "labelFont": "Liberation Serif", "labelFontSize": 20, "labelColor": "black",
          "symbolSize": 12, "symbolOffset": 8.5, "labelOffset": 13.5, "columnPadding": 12.5,
          "symbolType": {"expr": "datum.value === 'afvoer Maas' ? 'M-10.7,0H10.7' : 'circle'"},
          "encoding": {"symbols": {
            "shape": {"value": {"expr": "datum.value === 'afvoer Maas' ? 'M-10.7,0H10.7' : 'circle'"}},
            "size": {"value": 12},
            "fill": {"value": {"expr": "datum.value === 'afvoer Maas' ? 'transparent' : '#0000ff'"}},
            "stroke": {"value": {"expr": "datum.value === 'afvoer Maas' ? '#ff0000' : 'transparent'"}},
            "strokeWidth": {"value": 1.5},
            "opacity": {"value": 1}}}}}
    }
  },
  {
    "data": {"name": "afvoer"},
    "mark": {"type": "line", "strokeWidth": 1},
    "encoding": {
      "x": {"field": "dag", "type": "quantitative"},
      "y": {"field": "afvoer", "type": "quantitative", "scale": {"domain": [0, 2800], "nice": false},
        "axis": {"orient": "right", "title": "Afvoer Maas Eijsden (m3/s)", "values": [0, 700, 1400, 2100, 2800], "format": "d", "tickSize": 7, "labelPadding": 9, "titleAngle": 270, "titlePadding": 51}},
      "color": {"datum": "afvoer Maas", "type": "nominal"}
    }
  }
],
"resolve": {"scale": {"y": "independent"}}
}
